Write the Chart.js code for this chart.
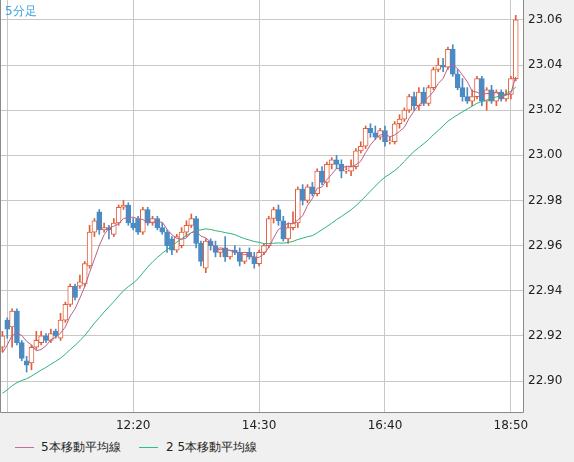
<!DOCTYPE html>
<html><head><meta charset="utf-8">
<script src="https://cdn.jsdelivr.net/npm/chart.js@4/dist/chart.umd.min.js"></script>
<style>
html,body{margin:0;padding:0;background:#f0f0f0;}
#wrap{position:relative;width:574px;height:462px;overflow:hidden;}
#c{position:absolute;left:0;top:0;}
.t{position:absolute;font:12px "DejaVu Sans",sans-serif;color:#222;white-space:nowrap;}
.sw{position:absolute;height:1px;width:19px;}
</style></head>
<body><div id="wrap"><canvas id="c" width="574" height="436"></canvas>
<div class="t" style="left:5px;top:3px;color:#3ba3dc;">5分足</div>
<div class="sw" style="left:15px;top:447px;background:#cc6a9a;"></div>
<div class="t" style="left:41px;top:439px;">5本移動平均線</div>
<div class="sw" style="left:139px;top:447px;background:#2cc083;"></div>
<div class="t" style="left:166px;top:439px;">2 5本移動平均線</div>
</div>
<script>
const priorCloses=[22.884,22.886,22.883,22.885,22.888,22.886,22.884,22.887,22.889,22.886,22.888,22.891,22.889,22.892,22.890,22.893,22.895,22.898,22.902,22.906,22.905,22.910,22.912,22.915];
const opens=[22.915,22.927,22.924,22.931,22.917,22.909,22.908,22.915,22.917,22.920,22.918,
22.922,22.919,22.927,22.934,22.942,22.942,22.943,22.951,22.966,22.975,
22.967,22.968,22.965,22.970,22.977,22.978,22.970,22.972,22.966,22.976,
22.970,22.972,22.968,22.966,22.963,22.958,22.960,22.966,22.969,22.972,
22.961,22.950,22.962,22.960,22.957,22.959,22.955,22.958,22.957,22.953,
22.957,22.955,22.952,22.957,22.960,22.972,22.976,22.971,22.963,22.968,
22.970,22.985,22.980,22.986,22.983,22.993,22.988,22.996,22.998,22.996,
22.993,22.993,22.995,23.002,23.004,23.012,23.010,23.008,23.011,23.006,
23.006,23.014,23.016,23.020,23.026,23.022,23.028,23.023,23.030,23.038,
23.040,23.039,23.047,23.036,23.030,23.026,23.024,23.026,23.034,23.024,
23.029,23.024,23.028,23.025,23.027,23.034];
const closes=[22.920,22.923,22.931,22.917,22.910,22.907,22.915,22.918,22.920,22.918,22.921,
22.920,22.927,22.934,22.942,22.937,22.944,22.952,22.966,22.971,22.967,
22.968,22.967,22.970,22.977,22.978,22.970,22.968,22.966,22.976,22.970,
22.972,22.968,22.966,22.960,22.958,22.964,22.966,22.969,22.972,22.961,
22.953,22.962,22.960,22.957,22.959,22.955,22.958,22.957,22.953,22.957,
22.955,22.952,22.957,22.960,22.972,22.976,22.971,22.963,22.968,22.970,
22.985,22.980,22.986,22.983,22.993,22.988,22.996,22.998,22.996,22.993,
22.993,22.995,23.002,23.004,23.012,23.010,23.008,23.011,23.006,23.006,
23.014,23.016,23.020,23.026,23.022,23.028,23.023,23.030,23.038,23.040,
23.039,23.047,23.036,23.030,23.026,23.024,23.026,23.034,23.024,23.029,
23.024,23.028,23.025,23.027,23.034,23.060];
const highs=[22.922,22.928,22.932,22.932,22.918,22.911,22.916,22.922,22.922,22.921,22.923,
22.923,22.930,22.935,22.943,22.943,22.947,22.953,22.969,22.972,22.976,
22.970,22.969,22.972,22.978,22.980,22.979,22.972,22.973,22.977,22.977,
22.973,22.973,22.970,22.967,22.964,22.965,22.968,22.971,22.974,22.973,
22.962,22.963,22.963,22.962,22.959,22.964,22.958,22.960,22.959,22.957,
22.959,22.957,22.958,22.961,22.973,22.977,22.978,22.973,22.970,22.975,
22.986,22.987,22.987,22.988,22.994,22.995,22.997,22.999,23.000,22.998,
22.995,22.998,23.003,23.006,23.013,23.014,23.013,23.012,23.013,23.008,
23.015,23.018,23.021,23.027,23.028,23.030,23.030,23.031,23.039,23.043,
23.043,23.048,23.049,23.038,23.034,23.030,23.029,23.035,23.035,23.030,
23.031,23.029,23.029,23.029,23.035,23.062];
const lows=[22.913,22.919,22.915,22.916,22.909,22.904,22.905,22.914,22.916,22.917,22.917,
22.919,22.918,22.926,22.933,22.936,22.941,22.942,22.950,22.964,22.965,
22.966,22.963,22.964,22.969,22.976,22.969,22.967,22.965,22.965,22.969,
22.969,22.967,22.965,22.957,22.956,22.957,22.959,22.964,22.968,22.959,
22.951,22.948,22.958,22.955,22.955,22.953,22.954,22.956,22.951,22.952,
22.954,22.950,22.951,22.956,22.959,22.970,22.969,22.962,22.961,22.967,
22.968,22.978,22.979,22.982,22.982,22.987,22.986,22.994,22.994,22.990,
22.992,22.991,22.994,23.001,23.003,23.008,23.007,23.007,23.004,23.005,
23.005,23.012,23.015,23.019,23.020,23.020,23.022,23.022,23.029,23.037,
23.037,23.038,23.035,23.029,23.024,23.023,23.022,23.025,23.022,23.020,
23.023,23.022,23.024,23.024,23.025,23.033];
const tickLabels=['12:20','14:30','16:40','18:50'];
const gridLabels=['10:10','12:20','14:30','16:40','18:50'];
const yTicks=[22.90,22.92,22.94,22.96,22.98,23.00,23.02,23.04,23.06];

const labels=[];
for(let m=10*60+5;m<=19*60;m+=5){labels.push(Math.floor(m/60)+':'+String(m%60).padStart(2,'0'));}
const all=priorCloses.concat(closes);
function ma(n){return closes.map((_,i)=>{const e=priorCloses.length+i;let s=0;for(let k=e-n+1;k<=e;k++)s+=all[k];return s/n;});}
const ma5=ma(5), ma25=ma(25);
const UP='#e0603c', DN='#4b8bc4';
const isUp=closes.map((c,i)=>c>=opens[i]);
const wick=closes.map((_,i)=>[lows[i],highs[i]]);
const body=closes.map((c,i)=>{let a=opens[i],b=c;if(Math.abs(a-b)<0.0004){b=a+0.0004;}return [Math.min(a,b),Math.max(a,b)];});

const bg={id:'bg',beforeDraw(ch){const {ctx,chartArea:a}=ch;ctx.save();ctx.fillStyle='#f0f0f0';ctx.fillRect(0,0,ch.width,ch.height);ctx.fillStyle='#fff';ctx.fillRect(a.left,a.top,a.right-a.left,a.bottom-a.top);ctx.restore();},
afterDraw(ch){const {ctx,chartArea:a}=ch;ctx.save();ctx.strokeStyle='#8a8a8a';ctx.lineWidth=1;ctx.beginPath();ctx.moveTo(a.left+0.5,a.top);ctx.lineTo(a.left+0.5,a.bottom+0.5);ctx.lineTo(a.right+0.5,a.bottom+0.5);ctx.lineTo(a.right+0.5,a.top);ctx.stroke();ctx.restore();}};

new Chart(document.getElementById('c'),{
 data:{labels,datasets:[
  {type:'line',data:ma5,borderColor:'#b8628e',borderWidth:1,pointRadius:0,order:1,tension:0},
  {type:'line',data:ma25,borderColor:'#2db37c',borderWidth:1,pointRadius:0,order:1,tension:0},
  {type:'bar',data:body,grouped:false,barThickness:5,borderWidth:1,borderSkipped:false,
   backgroundColor:isUp.map(u=>u?'#ffffff':DN),borderColor:isUp.map(u=>u?UP:DN),order:2},
  {type:'bar',data:wick,grouped:false,barThickness:1,borderWidth:0,
   backgroundColor:isUp.map(u=>u?UP:DN),order:3}
 ]},
 plugins:[bg],
 options:{responsive:false,animation:false,
  layout:{padding:0},
  plugins:{legend:{display:false},tooltip:{enabled:false}},
  scales:{
   x:{type:'category',offset:true,
     grid:{offset:false,drawTicks:false,color:c=>gridLabels.includes(labels[c.index])?'#c8c8c8':'rgba(0,0,0,0)'},
     border:{display:false},
     ticks:{autoSkip:false,maxRotation:0,padding:7,color:'#222',font:{family:'DejaVu Sans',size:12},
       callback:(v,i)=>tickLabels.includes(labels[i])?labels[i]:''},
     afterFit:s=>{s.height=24;s.paddingLeft=0;s.paddingRight=0;}},
   y:{position:'right',min:22.8863,max:23.0688,
     afterBuildTicks:s=>{s.ticks=yTicks.map(v=>({value:v}));},
     grid:{drawTicks:false,color:'#c8c8c8'},border:{display:false},
     ticks:{padding:5,color:'#222',font:{family:'DejaVu Sans',size:12},callback:v=>v.toFixed(2)},
     afterFit:s=>{s.width=51;s.paddingTop=0;s.paddingBottom=0;}}
  }}
});
</script></body></html>
